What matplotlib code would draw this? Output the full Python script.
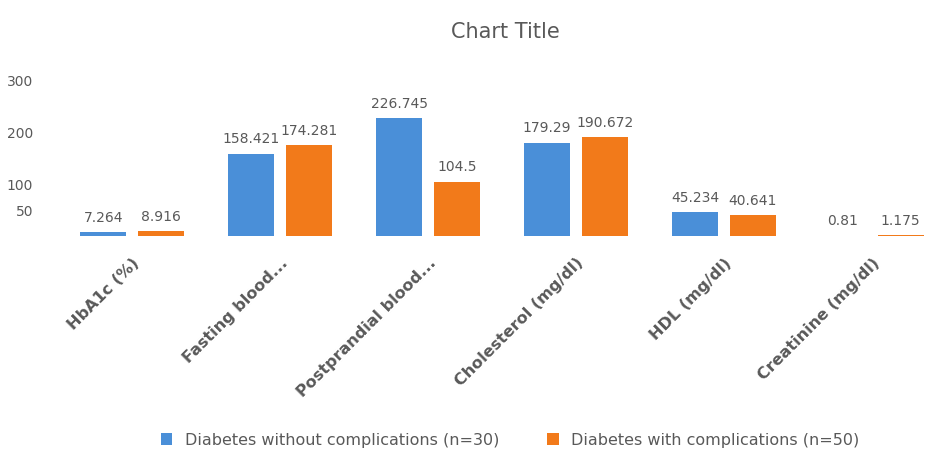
import matplotlib
matplotlib.use("Agg")
import matplotlib.pyplot as plt
import numpy as np

categories = ["HbA1c (%)", "Fasting blood...", "Postprandial blood...",
              "Cholesterol (mg/dl)", "HDL (mg/dl)", "Creatinine (mg/dl)"]
without_compl = [7.264, 158.421, 226.745, 179.29, 45.234, 0.81]
with_compl = [8.916, 174.281, 104.5, 190.672, 40.641, 1.175]
series_names = ["Diabetes without complications (n=30)",
                "Diabetes with complications (n=50)"]
yticks = [50, 100, 200, 300]

blue = "#4A8FD8"
orange = "#F27A1A"
txt = "#595959"

fig = plt.figure(figsize=(9.28, 4.57), dpi=100)
ax = fig.add_axes([0.0625, 1 - 236 / 457, 1 - 0.0625, (236 - 80) / 457])

x = np.arange(len(categories))
w = 0.31
off = 0.195
b1 = ax.bar(x - off, without_compl, w, color=blue, label=series_names[0])
b2 = ax.bar(x + off, with_compl, w, color=orange, label=series_names[1])

def fmt(v):
    return f"{v:.3f}".rstrip("0").rstrip(".")

for bars, vals in ((b1, without_compl), (b2, with_compl)):
    for r, v in zip(bars, vals):
        ax.text(r.get_x() + r.get_width() / 2, v + 14, fmt(v),
                ha="center", va="bottom", fontsize=10, color=txt)

ax.set_ylim(0, 300)
ax.set_xlim(-0.5, 5.38)
ax.set_yticks(yticks)
ax.set_yticklabels([str(t) for t in yticks], color=txt, fontsize=10)
ax.tick_params(axis="y", length=0, pad=18)
ax.set_xticks(x)
ax.set_xticklabels(categories, rotation=45, ha="right", rotation_mode="anchor",
                   fontsize=11.5, fontweight="bold", color=txt)
ax.tick_params(axis="x", length=0, pad=14)
for s in ax.spines.values():
    s.set_visible(False)

fig.text(0.545, 0.93, "Chart Title", ha="center", va="center",
         fontsize=15, color=txt)

fig.legend(handles=[b1, b2], labels=series_names, loc="center",
           bbox_to_anchor=(0.55, 1 - 440 / 457), ncol=2, frameon=False,
           fontsize=11.5, labelcolor=txt, handlelength=0.7, handleheight=0.7,
           columnspacing=3.0)

fig.savefig("out.png", dpi=100)
